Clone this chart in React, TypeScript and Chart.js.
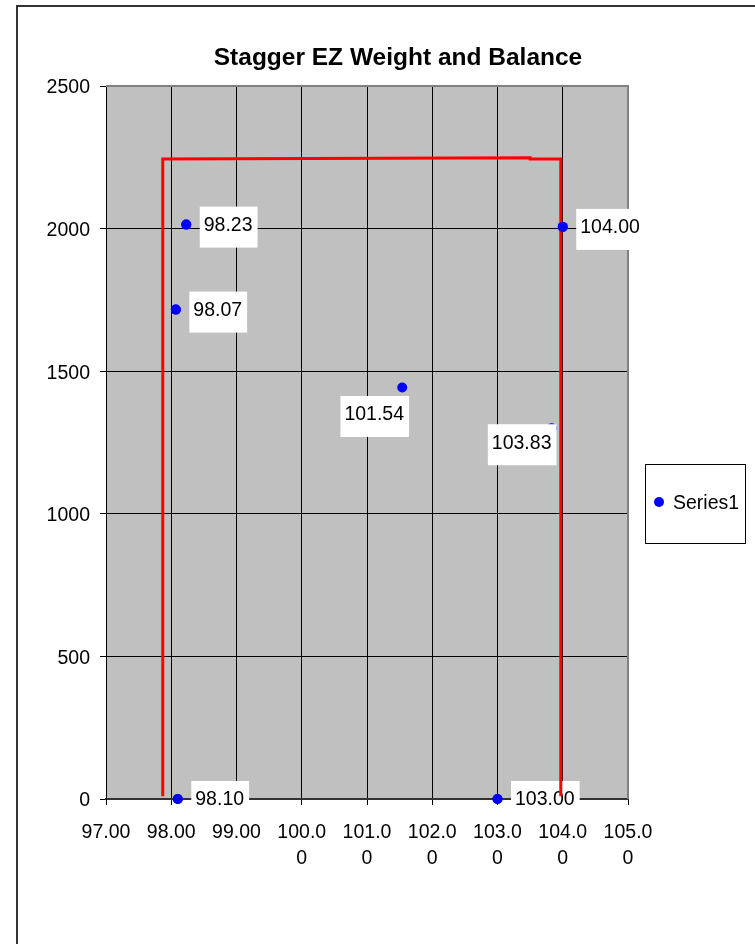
import React, { useEffect, useRef } from "react";
import { Chart, registerables } from "chart.js";

Chart.register(...registerables);

const TITLE = "Stagger EZ Weight and Balance";
const SERIES_NAME = "Series1";

// Series1 points (x = CG station, y = weight)
const pointX = [98.23, 98.07, 101.54, 103.83, 104.0, 98.1, 103.0];
const pointY = [2014, 1716, 1443, 1300, 2006, 0, 0];

// red envelope polyline
const envelopeX = [97.87, 97.87, 103.5, 103.5, 103.97, 103.97];
const envelopeY = [10, 2244, 2248, 2244, 2244, 10];

// axes
const xTicks = [97, 98, 99, 100, 101, 102, 103, 104, 105];
const xTickLabels = [
  ["97.00"],
  ["98.00"],
  ["99.00"],
  ["100.0", "0"],
  ["101.0", "0"],
  ["102.0", "0"],
  ["103.0", "0"],
  ["104.0", "0"],
  ["105.0", "0"],
];
const yTicks = [0, 500, 1000, 1500, 2000, 2500];
const yTickLabels = ["0", "500", "1000", "1500", "2000", "2500"];

// data label placement (style): null = to the right of the point, else text-centre offset in px
const labelOffset: (null | [number, number])[] = [null, null, [-28, 26], [-30, 13.5], null, null, null];

const FONT = "'Liberation Sans', Arial, sans-serif";
const FS = 19.5;

export default function App() {
  const ref = useRef<HTMLCanvasElement | null>(null);

  useEffect(() => {
    const canvas = ref.current;
    if (!canvas) return;

    const decor = {
      id: "decor",
      beforeDraw(chart: any) {
        const { ctx, chartArea: a } = chart;
        ctx.save();
        ctx.fillStyle = "#ffffff";
        ctx.fillRect(0, 0, chart.width, chart.height);
        ctx.fillStyle = "#c0c0c0";
        ctx.fillRect(a.left, a.top, a.right - a.left, a.bottom - a.top);
        // outer frame
        ctx.strokeStyle = "#333333";
        ctx.lineWidth = 2;
        ctx.beginPath();
        ctx.moveTo(17, chart.height + 2);
        ctx.lineTo(17, 6);
        ctx.lineTo(chart.width + 2, 6);
        ctx.stroke();
        // title
        ctx.fillStyle = "#000";
        ctx.font = `bold 24.5px ${FONT}`;
        ctx.textAlign = "center";
        ctx.textBaseline = "middle";
        ctx.fillText(TITLE, 398, 58);
        // legend
        ctx.strokeStyle = "#000";
        ctx.lineWidth = 1;
        ctx.strokeRect(645.5, 464.5, 100, 79);
        ctx.fillStyle = "#0000ff";
        ctx.beginPath();
        ctx.arc(659, 502, 5, 0, Math.PI * 2);
        ctx.fill();
        ctx.fillStyle = "#000";
        ctx.font = `${FS}px ${FONT}`;
        ctx.textAlign = "left";
        ctx.fillText(SERIES_NAME, 673, 503.5);
        ctx.restore();
      },
      beforeDatasetsDraw(chart: any) {
        const { ctx, chartArea: a } = chart;
        ctx.save();
        ctx.strokeStyle = "#808080";
        ctx.lineWidth = 2;
        ctx.beginPath();
        ctx.moveTo(a.left, a.top);
        ctx.lineTo(a.right, a.top);
        ctx.lineTo(a.right, a.bottom);
        ctx.stroke();
        ctx.restore();
      },
      afterDatasetDraw(chart: any, args: any) {
        if (args.index !== 0) return;
        // data labels of Series1 (drawn under the envelope line)
        const { ctx, chartArea: a } = chart;
        const xs = chart.scales.x;
        const ys = chart.scales.y;
        ctx.save();
        ctx.font = `${FS}px ${FONT}`;
        ctx.textBaseline = "middle";
        ctx.textAlign = "left";
        pointX.forEach((xv, i) => {
          const px = xs.getPixelForValue(xv);
          const py = ys.getPixelForValue(pointY[i]);
          const text = xv.toFixed(2);
          const w = ctx.measureText(text).width;
          let tl: number, tc: number;
          const off = labelOffset[i];
          if (off) {
            tl = px + off[0] - w / 2;
            tc = py + off[1];
          } else {
            tl = px + 17.5;
            tc = py - 0.5;
          }
          const top = tc - 17.5;
          const bottom = Math.min(tc + 23.5, a.bottom + 12);
          ctx.fillStyle = "#ffffff";
          ctx.fillRect(tl - 4, top, w + 9, bottom - top);
          ctx.fillStyle = "#000";
          ctx.fillText(text, tl, tc + 1.5);
        });
        ctx.restore();
      },
      afterDatasetsDraw(chart: any) {
        // keep uncovered markers above the envelope line
        const meta = chart.getDatasetMeta(0);
        meta.data.forEach((el: any, i: number) => {
          if (!labelOffset[i]) el.draw(chart.ctx);
        });
      },
    };

    const chart = new Chart(canvas, {
      type: "scatter",
      data: {
        datasets: [
          {
            label: SERIES_NAME,
            data: pointX.map((x, i) => ({ x, y: pointY[i] })),
            backgroundColor: "#0000ff",
            borderColor: "#0000ff",
            borderWidth: 0,
            pointRadius: 5,
            showLine: false,
            clip: false as any,
            order: 1,
          },
          {
            label: "Envelope",
            data: envelopeX.map((x, i) => ({ x, y: envelopeY[i] })),
            borderColor: "#ff0000",
            backgroundColor: "#ff0000",
            borderWidth: 3,
            pointRadius: 0,
            showLine: true,
            tension: 0,
            order: 0,
          } as any,
        ],
      },
      options: {
        responsive: false,
        animation: false,
        events: [],
        layout: { padding: { top: 86, right: 127, left: 0, bottom: 0 } },
        plugins: {
          legend: { display: false },
          title: { display: false },
          tooltip: { enabled: false },
        },
        scales: {
          x: {
            type: "linear",
            min: xTicks[0],
            max: xTicks[xTicks.length - 1],
            afterBuildTicks: (s: any) => {
              s.ticks = xTicks.map((v) => ({ value: v }));
            },
            afterFit: (s: any) => {
              s.height = 145;
            },
            ticks: {
              color: "#000",
              font: { family: FONT, size: FS, lineHeight: 1.33 },
              padding: 15,
              maxRotation: 0,
              autoSkip: false,
              callback: (v: any) => xTickLabels[xTicks.indexOf(Math.round(Number(v)))],
            },
            grid: { color: "#000", lineWidth: 1, tickLength: 6, drawTicks: true },
            border: { color: "#333", width: 2 },
          },
          y: {
            type: "linear",
            min: yTicks[0],
            max: yTicks[yTicks.length - 1],
            afterBuildTicks: (s: any) => {
              s.ticks = yTicks.map((v) => ({ value: v }));
            },
            afterFit: (s: any) => {
              s.width = 106;
            },
            ticks: {
              color: "#000",
              font: { family: FONT, size: FS },
              padding: 10,
              labelOffset: 2,
              autoSkip: false,
              callback: (v: any) => yTickLabels[yTicks.indexOf(Math.round(Number(v)))],
            },
            grid: { color: "#000", lineWidth: 1, tickLength: 6, drawTicks: true },
            border: { color: "#000", width: 1 },
          },
        },
      },
      plugins: [decor],
    });

    return () => chart.destroy();
  }, []);

  return (
    <div style={{ position: "fixed", left: 0, top: 0, width: 755, height: 944, background: "#fff" }}>
      <canvas ref={ref} width={755} height={944} style={{ width: 755, height: 944, display: "block" }} />
    </div>
  );
}
